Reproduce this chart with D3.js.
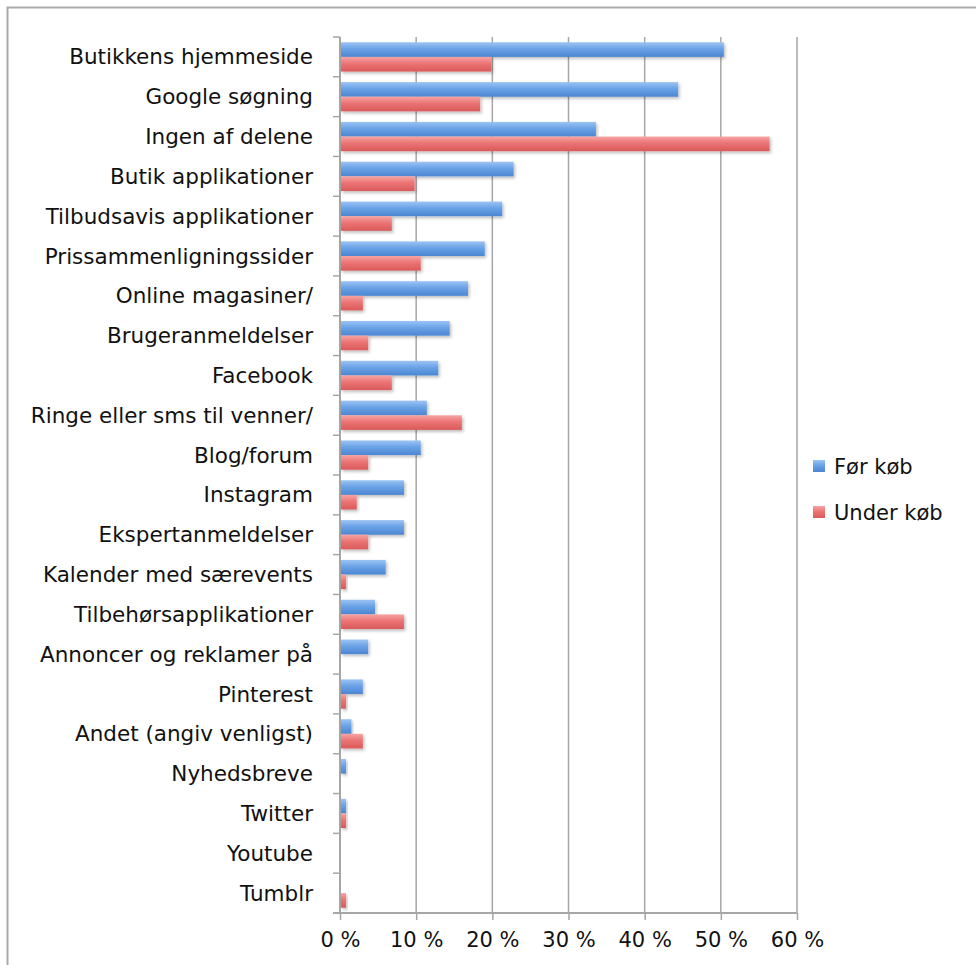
<!DOCTYPE html>
<html>
<head>
<meta charset="utf-8">
<script src="https://cdn.jsdelivr.net/npm/d3@7"></script>
<style>
  body { margin: 0; background: #fff; }
  svg text { font-family: "DejaVu Sans", sans-serif; fill: #111; }
</style>
</head>
<body>
<div id="chart"></div>
<script>
// categories, top to bottom
const categories = [
  "Butikkens hjemmeside", "Google søgning", "Ingen af delene", "Butik applikationer",
  "Tilbudsavis applikationer", "Prissammenligningssider", "Online magasiner/",
  "Brugeranmeldelser", "Facebook", "Ringe eller sms til venner/", "Blog/forum",
  "Instagram", "Ekspertanmeldelser", "Kalender med særevents", "Tilbehørsapplikationer",
  "Annoncer og reklamer på", "Pinterest", "Andet (angiv venligst)", "Nyhedsbreve",
  "Twitter", "Youtube", "Tumblr"
];
// percent values
const forKob = [50.4, 44.4, 33.6, 22.8, 21.3, 19.0, 16.8, 14.4, 12.9, 11.4, 10.6,
  8.4, 8.4, 6.0, 4.6, 3.7, 3.0, 1.5, 0.8, 0.8, 0, 0];
const underKob = [19.9, 18.4, 56.4, 9.8, 6.8, 10.6, 3.0, 3.7, 6.8, 16.0, 3.7,
  2.2, 3.7, 0.8, 8.4, 0, 0.8, 3.0, 0, 0.8, 0, 0.8];
const seriesNames = ["Før køb", "Under køb"];
const xTicks = [0, 10, 20, 30, 40, 50, 60];

const W = 976, H = 965;
let margin = { top: 37, right: 179, bottom: 52, left: 340 },
    width = W - margin.left - margin.right,
    height = H - margin.top - margin.bottom;

const svg0 = d3.select("#chart").append("svg")
    .attr("width", W).attr("height", H);

// outer frame (runs off the right and bottom edge)
svg0.append("rect")
    .attr("x", 7.5).attr("y", 7.5)
    .attr("width", W + 20).attr("height", H + 20)
    .attr("fill", "none")
    .attr("stroke", "#aaa")
    .attr("stroke-width", 2);

const defs = svg0.append("defs");
function grad(id, c1, c2, c3) {
  const g = defs.append("linearGradient").attr("id", id)
      .attr("x1", 0).attr("y1", 0).attr("x2", 0).attr("y2", 1);
  g.append("stop").attr("offset", "0%").attr("stop-color", c1);
  g.append("stop").attr("offset", "45%").attr("stop-color", c2);
  g.append("stop").attr("offset", "100%").attr("stop-color", c3);
}
grad("gBlue", "#9cc4f4", "#6aa2e6", "#4c86d2");
grad("gRed", "#f6a4a4", "#ec7474", "#d95a5a");
const f = defs.append("filter").attr("id", "shadow")
    .attr("x", "-10%").attr("y", "-30%").attr("width", "130%").attr("height", "180%");
f.append("feDropShadow").attr("dx", 1.5).attr("dy", 2).attr("stdDeviation", 1.5)
    .attr("flood-color", "#000").attr("flood-opacity", 0.25);

const svg = svg0.append("g")
    .attr("transform", "translate(" + margin.left + "," + margin.top + ")");

const x = d3.scaleLinear().domain([0, 60]).range([0, width]);
const y = d3.scaleBand().domain(categories).range([0, height]);
const sub = d3.scaleBand().domain(seriesNames).range([0, y.bandwidth()]).paddingOuter(0.36).paddingInner(0);

// gridlines
svg.selectAll(".grid")
    .data(xTicks.slice(1))
    .enter().append("line")
    .attr("x1", d => x(d)).attr("x2", d => x(d))
    .attr("y1", 0).attr("y2", height)
    .attr("stroke", "#a6a6a6").attr("stroke-width", 1.5);

// bottom axis
const xaxis = svg.append("g")
    .attr("transform", "translate(0," + height + ")")
    .call(d3.axisBottom(x).tickValues(xTicks).tickSize(7).tickPadding(12)
        .tickFormat(d => d + " %"));
xaxis.select(".domain").attr("stroke", "#a6a6a6").attr("stroke-width", 2)
    .attr("d", "M-7,0H" + width);
xaxis.selectAll(".tick line").attr("stroke", "#a6a6a6").attr("stroke-width", 1.5);
xaxis.selectAll("text").style("font-size", "21px").attr("fill", "#111");

// left axis with ticks between categories
svg.append("line")
    .attr("x1", 0).attr("x2", 0).attr("y1", 0).attr("y2", height)
    .attr("stroke", "#a6a6a6").attr("stroke-width", 2);
svg.selectAll(".ytick")
    .data(categories)
    .enter().append("line")
    .attr("x1", -7).attr("x2", 0)
    .attr("y1", d => y(d)).attr("y2", d => y(d))
    .attr("stroke", "#a6a6a6").attr("stroke-width", 1.5);

svg.selectAll(".ylab")
    .data(categories)
    .enter().append("text")
    .attr("x", -27)
    .attr("y", d => y(d) + y.bandwidth() / 2)
    .attr("dy", "0.35em")
    .attr("text-anchor", "end")
    .style("font-size", "21.5px")
    .text(d => d);

// bars
const rows = categories.map((c, i) => ({ cat: c, vals: [forKob[i], underKob[i]] }));
const grp = svg.selectAll(".row")
    .data(rows)
    .enter().append("g")
    .attr("transform", d => "translate(0," + y(d.cat) + ")");
grp.selectAll("rect")
    .data(d => d.vals.map((v, j) => ({ key: seriesNames[j], v: v })))
    .enter().append("rect")
    .filter(d => d.v > 0)
    .attr("x", 1)
    .attr("y", d => sub(d.key))
    .attr("width", d => x(d.v) - 1)
    .attr("height", sub.bandwidth())
    .attr("fill", d => d.key == seriesNames[0] ? "url(#gBlue)" : "url(#gRed)")
    .attr("filter", "url(#shadow)");

// legend
const legend = svg0.append("g").attr("transform", "translate(813,460)");
seriesNames.forEach(function(s, i) {
  legend.append("rect")
      .attr("x", 0).attr("y", i * 46)
      .attr("width", 12).attr("height", 12)
      .attr("fill", i == 0 ? "url(#gBlue)" : "url(#gRed)");
  legend.append("text")
      .attr("x", 21).attr("y", i * 46 + 7)
      .attr("dy", "0.35em")
      .style("font-size", "21px")
      .text(s);
});
</script>
</body>
</html>
